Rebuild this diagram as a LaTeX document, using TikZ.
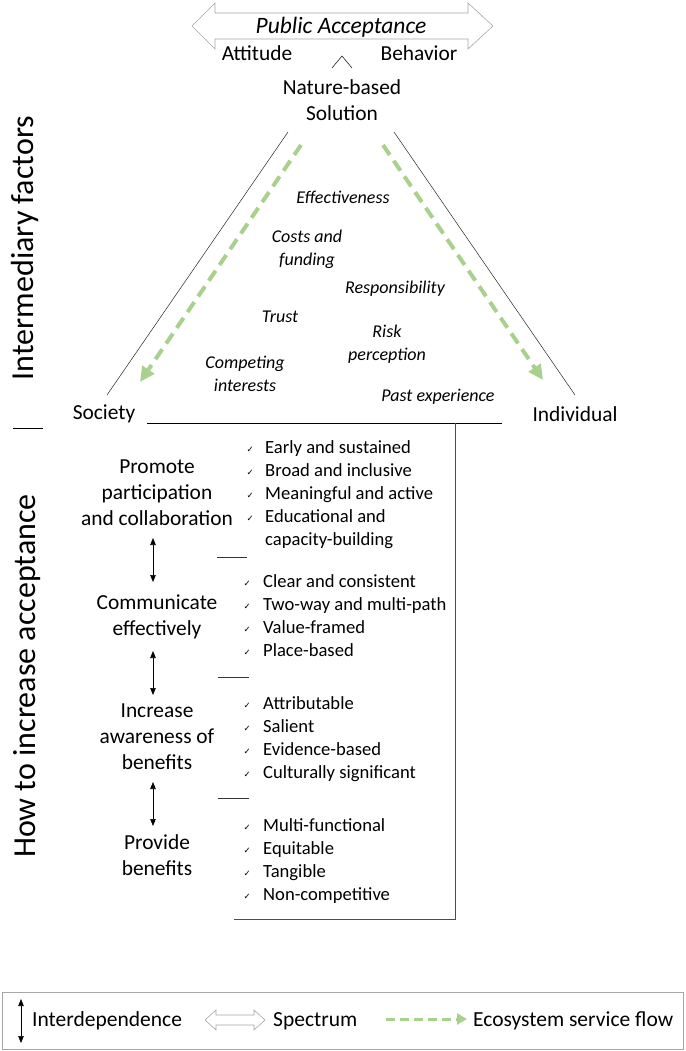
\documentclass[tikz,border=0pt]{standalone}
\usepackage{fontspec}
\setmainfont{Carlito}
\newfontfamily\symfont{DejaVu Sans}
\usetikzlibrary{arrows.meta}
\definecolor{flowgreen}{HTML}{A9D18E}
\definecolor{specgray}{HTML}{A6A6A6}
\newcommand{\chk}{{\symfont\fontsize{8.5}{8.5}\selectfont ✓}}

\tikzset{
  head/.style={font=\fontsize{21.4}{26}\selectfont, align=center, inner sep=0pt},
  factor/.style={font=\fontsize{18}{23}\selectfont\itshape, align=center, inner sep=0pt},
  item/.style={font=\fontsize{18.6}{23}\selectfont, anchor=west, inner sep=0pt, text height=13pt, text depth=4pt},
  tick/.style={anchor=east, inner sep=0pt, xshift=-10pt, yshift=-1pt},
  side/.style={font=\fontsize{32}{36}\selectfont, rotate=90, inner sep=0pt},
  legend/.style={font=\fontsize{21.5}{26}\selectfont, anchor=west, inner sep=0pt},
  flow/.style={draw=flowgreen, line width=4pt, dash pattern=on 12pt off 7pt, -{Triangle[length=15pt,width=14pt]}},
  link/.style={{Triangle[length=7pt,width=5.5pt]}-{Triangle[length=7pt,width=5.5pt]}, line width=0.6pt},
  hollow/.style={draw=specgray, fill=white, line width=0.6pt, line join=miter},
  sep/.style={draw=black!80, line width=0.6pt}
}

\begin{document}
\begin{tikzpicture}[x=1pt,y=-1pt]
    \useasboundingbox (0,0) rectangle (685,1051);

    % Spectrum arrow on top
    \draw[hollow] (192,26) -- (215,3) -- (215,13) -- (468,13) -- (468,3) -- (493,26)
        -- (468,49) -- (468,39) -- (215,39) -- (215,49) -- cycle;
    \node[head, font=\fontsize{23.5}{26}\selectfont\itshape] (pa) at (341,27) {Public Acceptance};
    \node[head] (att) at (257,53) {Attitude};
    \node[head] (beh) at (419,53) {Behavior};
    \draw[line width=0.5pt] (332,68) -- (342,56) -- (352,68); % pointer to the spectrum

    \node[head] (nbs) at (342,100) {Nature-based\\Solution};

    % Triangle
    \coordinate (lt) at (288,132);
    \coordinate (lb) at (107,395);
    \coordinate (rt) at (394,132);
    \coordinate (rb) at (575,395);
    \draw[line width=0.5pt, black!85] (lt) -- (lb);
    \draw[line width=0.5pt, black!85] (rt) -- (rb);

    \coordinate (fl1) at (301,145);
    \coordinate (fl2) at (140,382);
    \coordinate (fr1) at (383,145);
    \coordinate (fr2) at (543,380);
    \draw[flow] (fl1) -- (fl2);
    \draw[flow] (fr1) -- (fr2);

    \node[head] (soc) at (104,414) {Society};
    \node[head] (ind) at (575,414) {Individual};

    \coordinate (b1) at (147,423);
    \coordinate (b2) at (502,423);
    \draw[line width=0.7pt] (b1) -- (b2); % base of the triangle

    % Intermediary factors
    \node[factor] (eff) at (343,197) {Effectiveness};
    \node[factor] (cost) at (307,249) {Costs and\\funding};
    \node[factor] (resp) at (395,289) {Responsibility};
    \node[factor] (trust) at (280,317) {Trust};
    \node[factor] (risk) at (387,344) {Risk\\perception};
    \node[factor] (comp) at (245,374) {Competing\\interests};
    \node[factor] (past) at (438,397) {Past experience};

    % Side labels
    \node[side] (inter) at (25,248) {Intermediary factors};
    \node[side] (how) at (27,676) {How to increase acceptance};
    \draw[line width=0.6pt] (13,428) -- (43,428);

    % Box of the lists
    \coordinate (c1) at (455,423);
    \coordinate (c2) at (455,919);
    \coordinate (c3) at (234,919);
    \draw[line width=0.7pt, black!70] (c1) -- (c2) -- (c3);

    % How to increase acceptance
    \node[head] (promote) at (157,493) {Promote\\participation\\and collaboration};
    \node[head] (comm) at (157,617) {Communicate\\effectively};
    \node[head] (aware) at (157,737) {Increase\\awareness of\\benefits};
    \node[head] (provide) at (157,855) {Provide\\benefits};

    \coordinate (a1) at (153,538);
    \coordinate (a2) at (153,582);
    \coordinate (a3) at (153,651);
    \coordinate (a4) at (153,695);
    \coordinate (a5) at (153,782);
    \coordinate (a6) at (153,826);
    \draw[link] (a1) -- (a2);
    \draw[link] (a3) -- (a4);
    \draw[link] (a5) -- (a6);

    \draw[sep] (217,557) -- (247,557);
    \draw[sep] (218,677) -- (249,677);
    \draw[sep] (218,798) -- (249,798);

    % Lists
    \foreach \txt [count=\i] in {Early and sustained, Broad and inclusive, Meaningful and active, Educational and} {
        \node[item] (part\i) at (265,426+23*\i) {\txt};
        \node[tick, xshift=-1pt] at (part\i.west) {\chk};
    }
    \node[item] (part5) at (265,541) {capacity-building};

    \foreach \txt [count=\i] in {Clear and consistent, Two-way and multi-path, Value-framed, Place-based} {
        \node[item] (com\i) at (263,560+23*\i) {\txt};
        \node[tick, xshift=-2pt] at (com\i.west) {\chk};
    }

    \foreach \txt [count=\i] in {Attributable, Salient, Evidence-based, Culturally significant} {
        \node[item] (awa\i) at (263,682+23*\i) {\txt};
        \node[tick, xshift=-2pt] at (awa\i.west) {\chk};
    }

    \foreach \txt [count=\i] in {Multi-functional, Equitable, Tangible, Non-competitive} {
        \node[item] (ben\i) at (263,804+23*\i) {\txt};
        \node[tick, xshift=-2pt] at (ben\i.west) {\chk};
    }

    % Legend
    \draw[draw=specgray, line width=0.8pt] (2,992) rectangle (683,1049);
    \coordinate (l1) at (21,999);
    \coordinate (l2) at (21,1043);
    \draw[link] (l1) -- (l2);
    \node[legend] (lint) at (32,1021) {Interdependence};
    \draw[hollow] (205,1020) -- (216,1010) -- (216,1015) -- (254,1015) -- (254,1010) -- (265,1020)
        -- (254,1030) -- (254,1025) -- (216,1025) -- (216,1030) -- cycle;
    \node[legend] (lspec) at (273,1021) {Spectrum};
    \coordinate (g1) at (386,1019);
    \coordinate (g2) at (467,1019);
    \draw[flow, line width=3pt, dash pattern=on 9pt off 5pt, -{Triangle[length=10pt,width=11pt]}] (g1) -- (g2);
    \node[legend] (leco) at (473,1021) {Ecosystem service flow};

\end{tikzpicture}
\end{document}
